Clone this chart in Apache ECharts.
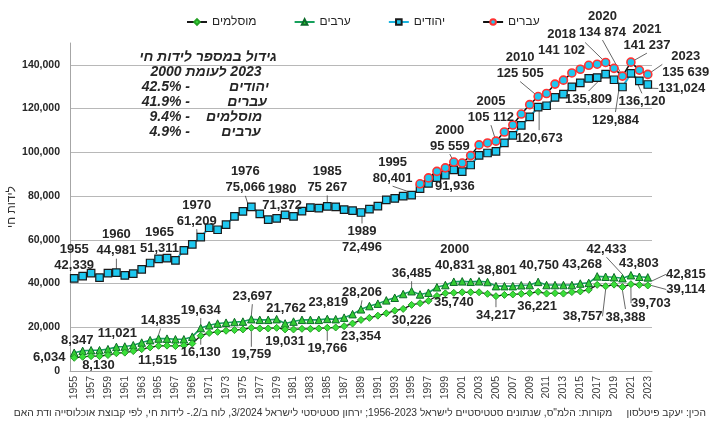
<!DOCTYPE html>
<html><head><meta charset="utf-8">
<script src="https://cdn.jsdelivr.net/npm/echarts@6/dist/echarts.min.js"></script>
<style>html,body{margin:0;padding:0;background:#fff}#c{width:720px;height:423px}</style>
</head><body><div id="c"></div>
<script>
// ---------------- DATA ----------------
const years = [1955,1956,1957,1958,1959,1960,1961,1962,1963,1964,1965,1966,1967,1968,1969,1970,1971,1972,1973,1974,1975,1976,1977,1978,1979,1980,1981,1982,1983,1984,1985,1986,1987,1988,1989,1990,1991,1992,1993,1994,1995,1996,1997,1998,1999,2000,2001,2002,2003,2004,2005,2006,2007,2008,2009,2010,2011,2012,2013,2014,2015,2016,2017,2018,2019,2020,2021,2022,2023];

const jews = [42339,43400,44800,42700,44800,44981,43700,44500,46500,49400,51311,51600,50600,55200,57900,61209,65500,64600,66900,70700,73000,75066,71900,69200,69800,71372,70700,73100,74700,74500,75267,75100,73800,73300,72496,74000,75400,78300,78900,80000,80401,83400,85800,88400,89600,91936,91200,94200,98600,99700,100400,104300,107800,112300,116200,120673,121300,125100,126600,129900,131800,133800,134200,135809,133200,129884,136120,132700,131024];

const hebrews = ['-','-','-','-','-','-','-','-','-','-','-','-','-','-','-','-','-','-','-','-','-','-','-','-','-','-','-','-','-','-','-','-','-','-','-','-','-','-','-','-','-',85600,88300,91300,92900,95559,95100,98500,103400,104300,105112,109300,112500,117500,121800,125505,126900,131200,133000,136300,138000,139800,140300,141102,138400,134874,141237,137600,135639];

const arabs = [8347,9200,9500,9500,10000,11021,11200,11800,13000,14100,14835,14800,14500,14500,15700,19634,20900,21700,22100,22400,22600,23697,23400,23400,23700,21762,22600,23400,23400,23400,23819,23700,24400,26000,28206,29700,30800,32300,33500,35200,36485,35000,35800,38300,39300,40831,41000,40800,41000,40700,38801,38800,38800,39200,39300,40750,39300,39300,39300,39300,40000,40300,43268,43100,42900,42433,43803,43100,42815];

const muslims = [6034,6500,6800,6800,7300,8130,8400,9100,10000,10800,11515,11600,11400,11700,12600,16130,17400,17900,18400,18700,19000,19759,19450,19450,19750,19031,19000,19300,19300,19450,19766,19900,20500,21700,23354,24300,25300,26400,27600,28400,30226,31000,32100,34300,35500,35740,36000,36000,36000,35300,34217,34800,35000,35300,35600,36221,35400,35600,35400,36100,36400,37100,39400,38757,39500,38388,39703,39400,39114];

const seriesNames = ['יהודים','עברים','ערבים','מוסלמים'];

const jewsLabelYears = [1955,1960,1965,1970,1976,1980,1985,1989,1995,2000,2010,2018,2020,2021,2023];
const jewsLabelTexts = ['1955\n42,339','1960\n44,981','1965\n51,311','1970\n61,209','1976\n75,066','1980\n71,372','1985\n75 267','1989\n72,496','1995\n80,401','91,936','120,673','135,809','129,884','136,120','131,024'];

const hebLabelYears = [2000,2005,2010,2018,2020,2021,2023];
const hebLabelTexts = ['2000\n95 559','2005\n105 112','2010\n125 505','2018\n141 102','2020\n134 874','2021\n141 237','2023\n135 639'];

const arabLabelYears = [1955,1960,1965,1970,1976,1980,1985,1989,1995,2000,2005,2010,2017,2020,2021,2023];
const arabLabelTexts = ['8,347','11,021','14,835','19,634','23,697','21,762','23,819','28,206','36,485','2000\n40,831','38,801','40,750','43,268','42,433','43,803','42,815'];

const muslimLabelYears = [1955,1960,1965,1970,1976,1980,1985,1989,1995,2000,2005,2010,2018,2020,2021,2023];
const muslimLabelTexts = ['6,034','8,130','11,515','16,130','19,759','19,031','19,766','23,354','30,226','35,740','34,217','36,221','38,757','38,388','39,703','39,114'];

const noteTitle = ['גידול במספר לידות חי', '2023 לעומת 2000'];
const noteGroups = ['יהודים','עברים','מוסלמים','ערבים'];
const notePct = ['42.5%','41.9%','9.4%','4.9%'];

const footer = 'הכין: יעקב פיטלסון     מקורות: הלמ"ס, שנתונים סטטיסטיים לישראל 1956-2023; ירחון סטטיסטי לישראל 3/2024, לוח ב/2.- לידות חי, לפי קבוצת אוכלוסייה ודת האם';

// ---------------- STYLE (label offsets from point, px) ----------------
const jewsOff = {1955:[0,-21],1960:[0,-30],1965:[1,-18],1970:[-4,-24],1976:[-6,-27],1980:[-3,-18],1985:[0,-27],1989:[1,27],1995:[-19,-25],2000:[1,16],2010:[1,31],2018:[-17,25],2020:[-7,33],2021:[11,28],2023:[34,4]};
const hebOff = {2000:[-4,-24],2005:[-5,-32],2010:[-18,-31],2018:[-44,-20],2020:[-20,-52],2021:[16,-25],2023:[38,-10]};
const arabOff = {1955:[3,-12],1960:[1,-13],1965:[2,-18],1970:[0,-18],1976:[1,-23],1980:[1,-15],1985:[1,-16],1989:[1,-17],1995:[0,-18],2000:[1,-24],2005:[1,-16],2010:[1,-16],2017:[-15,-12],2020:[-16,-29],2021:[8,-12],2023:[38,-3]};
const muslimOff = {1955:[-25,0],1960:[-18,12],1965:[-1,15],1970:[0,17],1976:[0,27],1980:[0,12],1985:[0,21],1989:[0,16],1995:[0,16],2000:[0,10],2005:[0,19],2010:[-1,15],2018:[-23,30],2020:[3,30],2021:[20,19],2023:[38,4]};

const jewsLead = [1960,1970,1976,1985,1989,1995,2010,2018,2020,2021,2023];
const hebLead = [2000,2005,2010,2018,2020,2021,2023];
const arabLead = [1965,1970,1976,1989,1995,2020,2023];
const muslimLead = [1970,1976,1985,2005,2018,2020,2021,2023];

const FONT = '"Liberation Sans", Arial, "DejaVu Sans", sans-serif';
const TXT = '#262626';

function buildData(values, labelYears, labelTexts, leadYears) {
  return values.map((v, i) => {
    const k = labelYears.indexOf(years[i]);
    if (k < 0 || v === '-') return v;
    return {
      value: v,
      label: { show: true, formatter: labelTexts[k] },
      labelLine: { show: leadYears.indexOf(years[i]) >= 0, lineStyle: { color: '#404040', width: 0.8 } }
    };
  });
}
function layoutFor(off) {
  return function (p) {
    const o = off[years[p.dataIndex]];
    if (!o) return {};
    return { x: p.rect.x + p.rect.width / 2 + o[0], y: p.rect.y + p.rect.height / 2 + o[1], align: 'center', verticalAlign: 'middle' };
  };
}
const labelStyle = { show: false, fontSize: 13, fontWeight: 'bold', color: TXT, fontFamily: FONT, lineHeight: 16 };

const chart = echarts.init(document.getElementById('c'), null, { renderer: 'canvas' });

const RLE = '\u202B', PDF = '\u202C';
const graphics = [];
const noteFont = { fontSize: 14, fontWeight: 'bold', fontStyle: 'italic', fontFamily: FONT, fill: TXT, verticalAlign: 'middle' };
graphics.push({ type: 'text', x: 208, y: 57, style: Object.assign({ text: noteTitle[0], align: 'center' }, noteFont) });
graphics.push({ type: 'text', x: 206, y: 72, style: Object.assign({ text: RLE + noteTitle[1] + PDF, align: 'center' }, noteFont) });
const nameX = [249, 247, 234, 241];
for (let i = 0; i < noteGroups.length; i++) {
  const yy = 87 + i * 15;
  graphics.push({ type: 'text', x: 190, y: yy, style: Object.assign({ text: notePct[i] + ' -', align: 'right' }, noteFont) });
  graphics.push({ type: 'text', x: nameX[i], y: yy, style: Object.assign({ text: noteGroups[i], align: 'center' }, noteFont) });
}
graphics.push({ type: 'text', x: 706, y: 413, style: { text: RLE + footer + PDF, fontSize: 10.25, fontFamily: FONT, fill: '#333', align: 'right', verticalAlign: 'middle' } });

chart.setOption({
  animation: false,
  backgroundColor: '#fff',
  grid: { left: 70, right: 68, top: 43, bottom: 52, outerBoundsMode: 'none', containLabel: false },
  legend: {
    data: ['מוסלמים', 'ערבים', 'יהודים', 'עברים'],
    left: 181, top: 11, itemGap: 37, itemWidth: 20, itemHeight: 7,
    textStyle: { fontSize: 12, color: TXT, fontFamily: FONT }
  },
  xAxis: {
    type: 'category', data: years.map(String), boundaryGap: true,
    axisLine: { lineStyle: { color: '#a6a6a6' } }, axisTick: { show: false },
    axisLabel: { interval: 1, rotate: 90, fontSize: 10.5, color: '#404040', margin: 5, fontFamily: FONT }
  },
  yAxis: {
    type: 'value', min: 0, max: 150000, interval: 20000,
    name: 'לידות חי', nameLocation: 'middle', nameGap: 52, nameRotate: 90, nameMoveOverlap: false,
    nameTextStyle: { fontSize: 12, color: '#333', fontFamily: FONT },
    axisLine: { show: true, lineStyle: { color: '#a6a6a6' } }, axisTick: { show: false },
    axisLabel: { formatter: v => v.toLocaleString('en-US'), fontSize: 10.5, fontWeight: 'bold', color: TXT, margin: 10, showMaxLabel: false, fontFamily: FONT },
    splitLine: { lineStyle: { color: '#b8b8b8' }, showMaxLine: false }
  },
  graphic: graphics,
  series: [
    {
      name: seriesNames[2], type: 'line', data: buildData(arabs, arabLabelYears, arabLabelTexts, arabLead),
      symbol: 'triangle', symbolSize: 7.5, showAllSymbol: true,
      lineStyle: { color: '#17a05c', width: 1.6 },
      itemStyle: { color: '#33cc33', borderColor: '#0d6b2b', borderWidth: 1 },
      label: labelStyle, labelLayout: layoutFor(arabOff)
    },
    {
      name: seriesNames[3], type: 'line', data: buildData(muslims, muslimLabelYears, muslimLabelTexts, muslimLead),
      symbol: 'diamond', symbolSize: 7, showAllSymbol: true,
      lineStyle: { color: '#1a1a1a', width: 1.3 },
      itemStyle: { color: '#3ae03a', borderColor: '#24a024', borderWidth: 1 },
      label: labelStyle, labelLayout: layoutFor(muslimOff)
    },
    {
      name: seriesNames[0], type: 'line', data: buildData(jews, jewsLabelYears, jewsLabelTexts, jewsLead),
      symbol: 'rect', symbolSize: 7.5, showAllSymbol: true,
      lineStyle: { color: '#1cb5e0', width: 2 },
      itemStyle: { color: '#1ec8f0', borderColor: '#1a1a1a', borderWidth: 1.2 },
      label: labelStyle, labelLayout: layoutFor(jewsOff)
    },
    {
      name: seriesNames[1], type: 'line', data: buildData(hebrews, hebLabelYears, hebLabelTexts, hebLead),
      symbol: 'circle', symbolSize: 8, showAllSymbol: true,
      lineStyle: { color: '#111', width: 1.5 },
      itemStyle: { color: '#1ec8f0', borderColor: '#ff3333', borderWidth: 1.6 },
      label: labelStyle, labelLayout: layoutFor(hebOff)
    }
  ]
});
</script></body></html>
